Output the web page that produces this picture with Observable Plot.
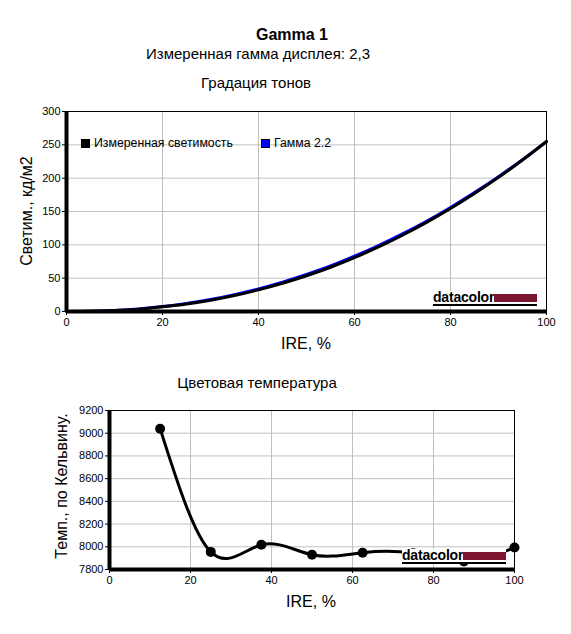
<!DOCTYPE html>
<html>
<head>
<meta charset="utf-8">
<script src="https://cdn.jsdelivr.net/npm/d3@7"></script>
<script src="https://cdn.jsdelivr.net/npm/@observablehq/plot@0.6"></script>
<style>
  body { margin: 0; background: #fff; font-family: "Liberation Sans", Arial, sans-serif; }
  #root { position: relative; width: 571px; height: 634px; overflow: hidden; }
  .t { position: absolute; white-space: nowrap; color: #000; line-height: 1; }
  .logo { position: absolute; background: #fff; display: flex; align-items: flex-end; border-bottom: 2px solid #000; padding-top: 1px; }
  .logo .word { font-family: "Liberation Sans", Arial, sans-serif; font-weight: bold; font-size: 14px; letter-spacing: -0.2px; line-height: 11px; height: 11px; border-bottom: 1px solid #fff; }
  .logo .bar { background: #7b1530; height: 8px; margin-bottom: 2px; }
  .sw { position: absolute; width: 7px; height: 7px; border: 1px solid #000; }
</style>
</head>
<body>
<div id="root"></div>
<script>
// ---- Data ----
const titleMain = "Gamma 1";
const subtitle = "Измеренная гамма дисплея: 2,3";
const chart1Title = "Градация тонов";
const chart2Title = "Цветовая температура";
const xLabel = "IRE, %";
const y1Label = "Светим., кд/м2";
const y2Label = "Темп., по Кельвину.";
const legendLabels = ["Измеренная светимость", "Гамма 2.2"];
const legendColors = ["#000000", "#0000ff"];

const ireSteps = [0, 5, 10, 15, 20, 25, 30, 35, 40, 45, 50, 55, 60, 65, 70, 75, 80, 85, 90, 95, 100];
const measuredLum = [0, 0.3, 1.4, 3.5, 7.0, 11.3, 17.0, 24.0, 32.5, 42.3, 53.6, 66.4, 80.8, 96.8, 114.4, 133.6, 154.5, 177.0, 201.2, 227.2, 255];
const gamma22Lum = [0, 0.35, 1.6, 3.9, 7.4, 12.1, 18.0, 25.3, 33.9, 44.0, 55.5, 68.3, 82.9, 98.9, 116.4, 135.4, 156.1, 178.4, 202.2, 227.8, 255];

const ireTemp = [12.5, 25, 37.5, 50, 62.5, 75, 87.5, 100];
const tempK = [9040, 7955, 8018, 7930, 7948, 7942, 7870, 7993];

const xTicks = [0, 20, 40, 60, 80, 100];
const y1Ticks = [0, 50, 100, 150, 200, 250, 300];
const y2Ticks = [7800, 8000, 8200, 8400, 8600, 8800, 9000, 9200];

// ---- Build tables ----
const lumData = ireSteps.map((x, i) => ({x, m: measuredLum[i], g: gamma22Lum[i]}));
const tempData = ireTemp.map((x, i) => ({x, t: tempK[i]}));

const root = document.getElementById("root");
const FONT = "'Liberation Sans', Arial, sans-serif";
const plain = d => String(d);

function text(str, cx, baseline, fs, opts = {}) {
  const d = document.createElement("div");
  d.className = "t";
  d.textContent = str;
  d.style.fontSize = fs + "px";
  if (opts.bold) d.style.fontWeight = "bold";
  if (opts.rotate) {
    d.style.left = cx + "px";
    d.style.top = baseline + "px";
    d.style.transform = "translate(-50%, -50%) rotate(-90deg)";
  } else {
    d.style.left = cx + "px";
    d.style.top = (baseline - 0.86 * fs) + "px";
    d.style.transform = "translateX(-50%)";
  }
  root.appendChild(d);
}

function place(el, left, topPx) {
  el.style.position = "absolute";
  el.style.left = left + "px";
  el.style.top = topPx + "px";
  root.appendChild(el);
}

function logo(left, topPx, w) {
  const d = document.createElement("div");
  d.className = "logo";
  d.style.left = left + "px";
  d.style.top = topPx + "px";
  const word = document.createElement("span");
  word.className = "word";
  word.textContent = "datacolor";
  const bar = document.createElement("span");
  bar.className = "bar";
  bar.style.width = w + "px";
  d.appendChild(word);
  d.appendChild(bar);
  root.appendChild(d);
}

// ---- Top chart ----
const chartTop = Plot.plot({
  width: 571, height: 255,
  marginLeft: 66, marginRight: 25, marginTop: 11, marginBottom: 44,
  style: {fontFamily: FONT, fontSize: "11px", color: "#000", background: "transparent", overflow: "visible"},
  x: {domain: [0, 100]},
  y: {domain: [0, 300]},
  marks: [
    Plot.gridX(xTicks.slice(1, -1), {stroke: "#c0c0c0", strokeOpacity: 1}),
    Plot.gridY(y1Ticks.slice(1, -1), {stroke: "#c0c0c0", strokeOpacity: 1}),
    Plot.frame({stroke: "#000", strokeWidth: 1}),
    Plot.line(lumData, {x: "x", y: "g", stroke: legendColors[1], strokeWidth: 3, curve: "monotone-x"}),
    Plot.line(lumData, {x: "x", y: "m", stroke: legendColors[0], strokeWidth: 3, curve: "monotone-x"}),
    Plot.ruleX([0], {stroke: "#000", strokeWidth: 4}),
    Plot.ruleY([0], {stroke: "#000", strokeWidth: 4}),
    Plot.axisX({ticks: xTicks, tickSize: 4, tickPadding: 3, label: null, stroke: "#000", tickFormat: plain}),
    Plot.axisY({ticks: y1Ticks, tickSize: 4, tickPadding: 2, label: null, stroke: "#000", tickFormat: plain})
  ]
});
place(chartTop, 0, 100);

// ---- Bottom chart ----
const chartBottom = Plot.plot({
  width: 571, height: 230,
  marginLeft: 109, marginRight: 57, marginTop: 10, marginBottom: 61,
  style: {fontFamily: FONT, fontSize: "11px", color: "#000", background: "transparent", overflow: "visible"},
  x: {domain: [0, 100]},
  y: {domain: [7800, 9200]},
  marks: [
    Plot.gridX(xTicks.slice(1, -1), {stroke: "#c0c0c0", strokeOpacity: 1}),
    Plot.gridY(y2Ticks.slice(1, -1), {stroke: "#c0c0c0", strokeOpacity: 1}),
    Plot.frame({stroke: "#000", strokeWidth: 1}),
    Plot.line(tempData, {x: "x", y: "t", stroke: "#000", strokeWidth: 3, curve: "natural"}),
    Plot.dot(tempData, {x: "x", y: "t", fill: "#000", r: 5}),
    Plot.ruleX([0], {stroke: "#000", strokeWidth: 4}),
    Plot.ruleY([7800], {stroke: "#000", strokeWidth: 4}),
    Plot.axisX({ticks: xTicks, tickSize: 4, tickPadding: 3, label: null, stroke: "#000", tickFormat: plain}),
    Plot.axisY({ticks: y2Ticks, tickSize: 4, tickPadding: 2, label: null, stroke: "#000", tickFormat: plain})
  ]
});
place(chartBottom, 0, 400);

// ---- Texts ----
text(titleMain, 292, 41, 16, {bold: true});
text(subtitle, 258, 59, 15);
text(chart1Title, 256, 88, 15);
text(chart2Title, 257, 388, 15);
text(xLabel, 306, 350, 16);
text(xLabel, 311, 608, 16);
text(y1Label, 27, 211, 16, {rotate: true});
text(y2Label, 62, 486, 16, {rotate: true});

// ---- Legend (top chart) ----
const legX = [81, 261];
legendLabels.forEach((lab, i) => {
  const s = document.createElement("div");
  s.className = "sw";
  s.style.background = legendColors[i];
  place(s, legX[i], 139);
  const t = document.createElement("div");
  t.className = "t";
  t.textContent = lab;
  t.style.fontSize = "12.3px";
  place(t, legX[i] + 13, 137);
});

// ---- Logos ----
logo(433, 291, 43);
logo(402, 549, 43);
</script>
</body>
</html>
